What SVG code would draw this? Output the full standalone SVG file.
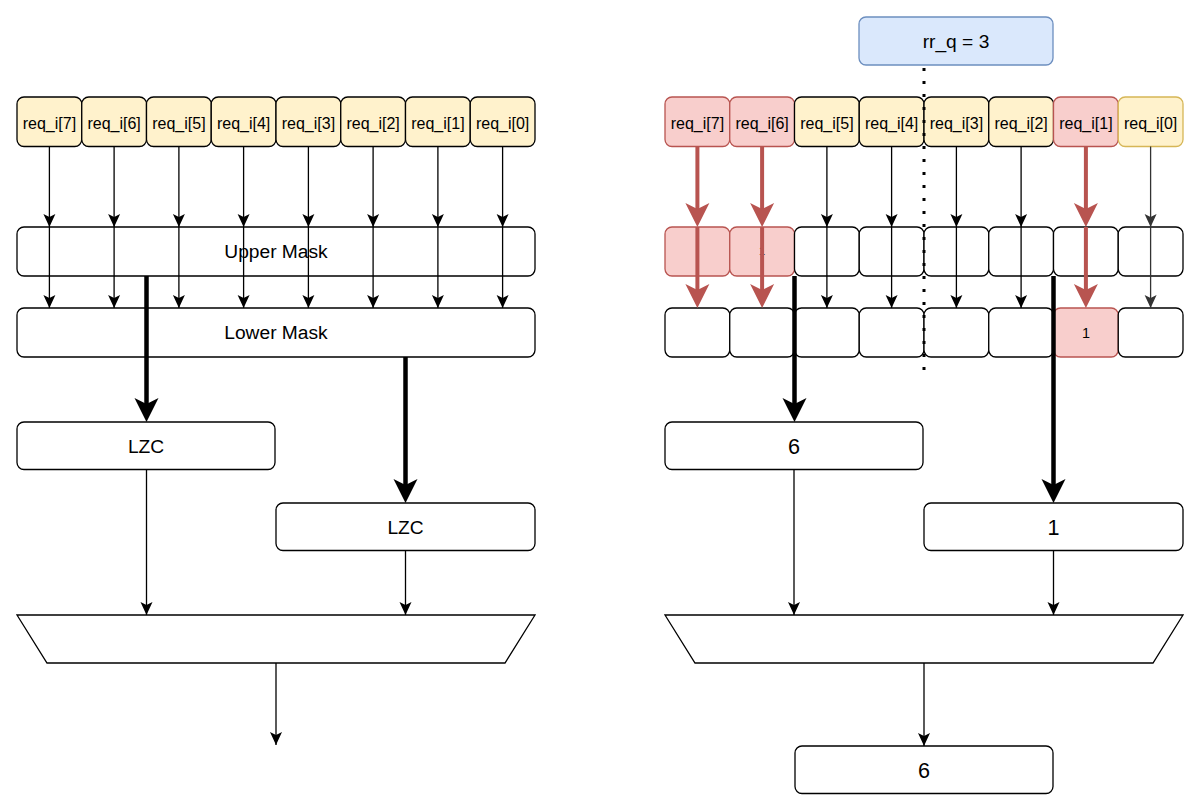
<svg xmlns="http://www.w3.org/2000/svg" width="1200" height="811" viewBox="0 0 1200 811">
<style>
.box{stroke:#000;stroke-width:1.3;fill:#fff}
.req{fill:#fff2cc;stroke:#000;stroke-width:1.3}
.red{fill:#f8cecc;stroke:#b85450;stroke-width:1.3}
.yel{fill:#fff2cc;stroke:#d6b656;stroke-width:1.3}
.blue{fill:#dae8fc;stroke:#6c8ebf;stroke-width:1.3}
text{font-family:"Liberation Sans",Arial,sans-serif;fill:#000;text-anchor:middle;dominant-baseline:central}
.t15{font-size:16px}
.t19{font-size:19.2px}
.t21{font-size:21.6px}
.t14{font-size:14.4px}
.t11{font-size:11px}
.thin{stroke:#000;stroke-width:1.3;fill:none;marker-end:url(#a)}
.grey{stroke:#333;stroke-width:1.3;fill:none;marker-end:url(#ag)}
.thick{stroke:#000;stroke-width:4.5;fill:none;marker-end:url(#b)}
.rline{stroke:#b85450;stroke-width:4;fill:none;marker-end:url(#r)}
.dots{stroke:#000;stroke-width:3;stroke-dasharray:3 10;fill:none}
</style>
<defs>
<marker id="a" markerUnits="userSpaceOnUse" viewBox="-14 -7 15 14" refX="0" refY="0" markerWidth="15" markerHeight="14" orient="auto"><path d="M-13,-6 L0,0 L-13,6 L-10,0 Z" fill="#000"/></marker>
<marker id="ag" markerUnits="userSpaceOnUse" viewBox="-14 -7 15 14" refX="0" refY="0" markerWidth="15" markerHeight="14" orient="auto"><path d="M-13,-6 L0,0 L-13,6 L-10,0 Z" fill="#333"/></marker>
<marker id="b" markerUnits="userSpaceOnUse" viewBox="-26 -13 34 26" refX="-6" refY="0" markerWidth="34" markerHeight="26" orient="auto"><path d="M-24,-12 L0,0 L-24,12 L-18,0 Z" fill="#000"/></marker>
<marker id="r" markerUnits="userSpaceOnUse" viewBox="-26 -13 34 26" refX="-6" refY="0" markerWidth="34" markerHeight="26" orient="auto"><path d="M-24,-12 L0,0 L-24,12 L-18,0 Z" fill="#b85450"/></marker>
</defs>

<!-- LEFT SIDE NODES -->
<g id="l-req7"><rect class="req" x="17" y="97" width="64.75" height="49.5" rx="7"/><text class="t15" x="49.4" y="123">req_i[7]</text></g>
<g id="l-req6"><rect class="req" x="81.75" y="97" width="64.75" height="49.5" rx="7"/><text class="t15" x="114.1" y="123">req_i[6]</text></g>
<g id="l-req5"><rect class="req" x="146.5" y="97" width="64.75" height="49.5" rx="7"/><text class="t15" x="178.9" y="123">req_i[5]</text></g>
<g id="l-req4"><rect class="req" x="211.25" y="97" width="64.75" height="49.5" rx="7"/><text class="t15" x="243.6" y="123">req_i[4]</text></g>
<g id="l-req3"><rect class="req" x="276" y="97" width="64.75" height="49.5" rx="7"/><text class="t15" x="308.4" y="123">req_i[3]</text></g>
<g id="l-req2"><rect class="req" x="340.75" y="97" width="64.75" height="49.5" rx="7"/><text class="t15" x="373.1" y="123">req_i[2]</text></g>
<g id="l-req1"><rect class="req" x="405.5" y="97" width="64.75" height="49.5" rx="7"/><text class="t15" x="437.9" y="123">req_i[1]</text></g>
<g id="l-req0"><rect class="req" x="470.25" y="97" width="64.75" height="49.5" rx="7"/><text class="t15" x="502.6" y="123">req_i[0]</text></g>

<g id="l-upper"><rect class="box" x="17" y="227" width="518" height="49" rx="7"/><text class="t19" x="276" y="251.5">Upper Mask</text></g>
<g id="l-lower"><rect class="box" x="17" y="308" width="518" height="49" rx="7"/><text class="t19" x="276" y="332.5">Lower Mask</text></g>
<g id="l-lzc1"><rect class="box" x="17" y="422" width="258" height="47.5" rx="7"/><text class="t19" x="146" y="446">LZC</text></g>
<g id="l-lzc2"><rect class="box" x="276" y="503" width="259" height="47.5" rx="7"/><text class="t19" x="405.5" y="527">LZC</text></g>
<g id="l-mux"><path class="box" d="M17,615 L535,615 L505,663 L47,663 Z"/></g>

<!-- RIGHT SIDE NODES -->
<g id="r-rrq"><rect class="blue" x="859" y="17" width="194" height="48" rx="7"/><text class="t19" x="956" y="41">rr_q = 3</text></g>

<g id="r-req7"><rect class="red" x="665" y="97" width="64.75" height="49.5" rx="7"/><text class="t15" x="697.4" y="123">req_i[7]</text></g>
<g id="r-req6"><rect class="red" x="729.75" y="97" width="64.75" height="49.5" rx="7"/><text class="t15" x="762.1" y="123">req_i[6]</text></g>
<g id="r-req5"><rect class="req" x="794.5" y="97" width="64.75" height="49.5" rx="7"/><text class="t15" x="826.9" y="123">req_i[5]</text></g>
<g id="r-req4"><rect class="req" x="859.25" y="97" width="64.75" height="49.5" rx="7"/><text class="t15" x="891.6" y="123">req_i[4]</text></g>
<g id="r-req3"><rect class="req" x="924" y="97" width="64.75" height="49.5" rx="7"/><text class="t15" x="956.4" y="123">req_i[3]</text></g>
<g id="r-req2"><rect class="req" x="988.75" y="97" width="64.75" height="49.5" rx="7"/><text class="t15" x="1021.1" y="123">req_i[2]</text></g>
<g id="r-req1"><rect class="red" x="1053.5" y="97" width="64.75" height="49.5" rx="7"/><text class="t15" x="1085.9" y="123">req_i[1]</text></g>
<g id="r-req0"><rect class="yel" x="1118.25" y="97" width="64.75" height="49.5" rx="7"/><text class="t15" x="1150.6" y="123">req_i[0]</text></g>

<g id="r-up7"><rect class="red" x="665" y="227" width="64.75" height="49" rx="7"/></g>
<g id="r-up6"><rect class="red" x="729.75" y="227" width="64.75" height="49" rx="7"/><text class="t11" x="762" y="251">1</text></g>
<g id="r-up5"><rect class="box" x="794.5" y="227" width="64.75" height="49" rx="7"/></g>
<g id="r-up4"><rect class="box" x="859.25" y="227" width="64.75" height="49" rx="7"/></g>
<g id="r-up3"><rect class="box" x="924" y="227" width="64.75" height="49" rx="7"/></g>
<g id="r-up2"><rect class="box" x="988.75" y="227" width="64.75" height="49" rx="7"/></g>
<g id="r-up1"><rect class="box" x="1053.5" y="227" width="64.75" height="49" rx="7"/></g>
<g id="r-up0"><rect class="box" x="1118.25" y="227" width="64.75" height="49" rx="7"/></g>

<g id="r-lo7"><rect class="box" x="665" y="308" width="64.75" height="49" rx="7"/></g>
<g id="r-lo6"><rect class="box" x="729.75" y="308" width="64.75" height="49" rx="7"/></g>
<g id="r-lo5"><rect class="box" x="794.5" y="308" width="64.75" height="49" rx="7"/></g>
<g id="r-lo4"><rect class="box" x="859.25" y="308" width="64.75" height="49" rx="7"/></g>
<g id="r-lo3"><rect class="box" x="924" y="308" width="64.75" height="49" rx="7"/></g>
<g id="r-lo2"><rect class="box" x="988.75" y="308" width="64.75" height="49" rx="7"/></g>
<g id="r-lo1"><rect class="red" x="1053.5" y="308" width="64.75" height="49" rx="7"/><text class="t14" x="1085.9" y="333">1</text></g>
<g id="r-lo0"><rect class="box" x="1118.25" y="308" width="64.75" height="49" rx="7"/></g>

<g id="r-lzc1"><rect class="box" x="665" y="422" width="258" height="47.5" rx="7"/><text class="t21" x="794" y="446">6</text></g>
<g id="r-lzc2"><rect class="box" x="924" y="503" width="259" height="47.5" rx="7"/><text class="t21" x="1053.5" y="527">1</text></g>
<g id="r-mux"><path class="box" d="M665,615 L1183,615 L1153,663 L695,663 Z"/></g>
<g id="r-out"><rect class="box" x="795" y="746" width="258" height="47.5" rx="7"/><text class="t21" x="924" y="770">6</text></g>

<!-- CONNECTORS -->
<g id="connectors">
<path class="thin" d="M49.4,146.5 V227"/><path class="thin" d="M49.4,227 V308"/>
<path class="thin" d="M114.1,146.5 V227"/><path class="thin" d="M114.1,227 V308"/>
<path class="thin" d="M178.9,146.5 V227"/><path class="thin" d="M178.9,227 V308"/>
<path class="thin" d="M243.6,146.5 V227"/><path class="thin" d="M243.6,227 V308"/>
<path class="thin" d="M308.4,146.5 V227"/><path class="thin" d="M308.4,227 V308"/>
<path class="thin" d="M373.1,146.5 V227"/><path class="thin" d="M373.1,227 V308"/>
<path class="thin" d="M437.9,146.5 V227"/><path class="thin" d="M437.9,227 V308"/>
<path class="thin" d="M502.6,146.5 V227"/><path class="thin" d="M502.6,227 V308"/>
<path class="thick" d="M146.5,276 V416"/>
<path class="thick" d="M405.5,357 V497"/>
<path class="thin" d="M146.5,469.5 V615"/>
<path class="thin" d="M405.5,550.5 V615"/>
<path class="thin" d="M276,663 V745"/>

<path class="rline" d="M697.4,146.5 V221"/><path class="rline" d="M697.4,227 V302"/>
<path class="rline" d="M762.1,146.5 V221"/><path class="rline" d="M762.1,227 V302"/>
<path class="thin" d="M826.9,146.5 V227"/><path class="thin" d="M826.9,227 V308"/>
<path class="thin" d="M891.6,146.5 V227"/><path class="thin" d="M891.6,227 V308"/>
<path class="thin" d="M956.4,146.5 V227"/><path class="thin" d="M956.4,227 V308"/>
<path class="thin" d="M1021.1,146.5 V227"/><path class="thin" d="M1021.1,227 V308"/>
<path class="rline" d="M1085.9,146.5 V221"/><path class="rline" d="M1085.9,227 V302"/>
<path class="grey" d="M1150.6,146.5 V227"/><path class="grey" d="M1150.6,227 V308"/>
<path class="thick" d="M794.5,276 V416"/>
<path class="thick" d="M1053.5,276 V497"/>
<path class="thin" d="M794,469.5 V615"/>
<path class="thin" d="M1053.5,550.5 V615"/>
<path class="thin" d="M924,663 V746"/>
<path class="dots" d="M924,68 V376"/>
</g>
</svg>
